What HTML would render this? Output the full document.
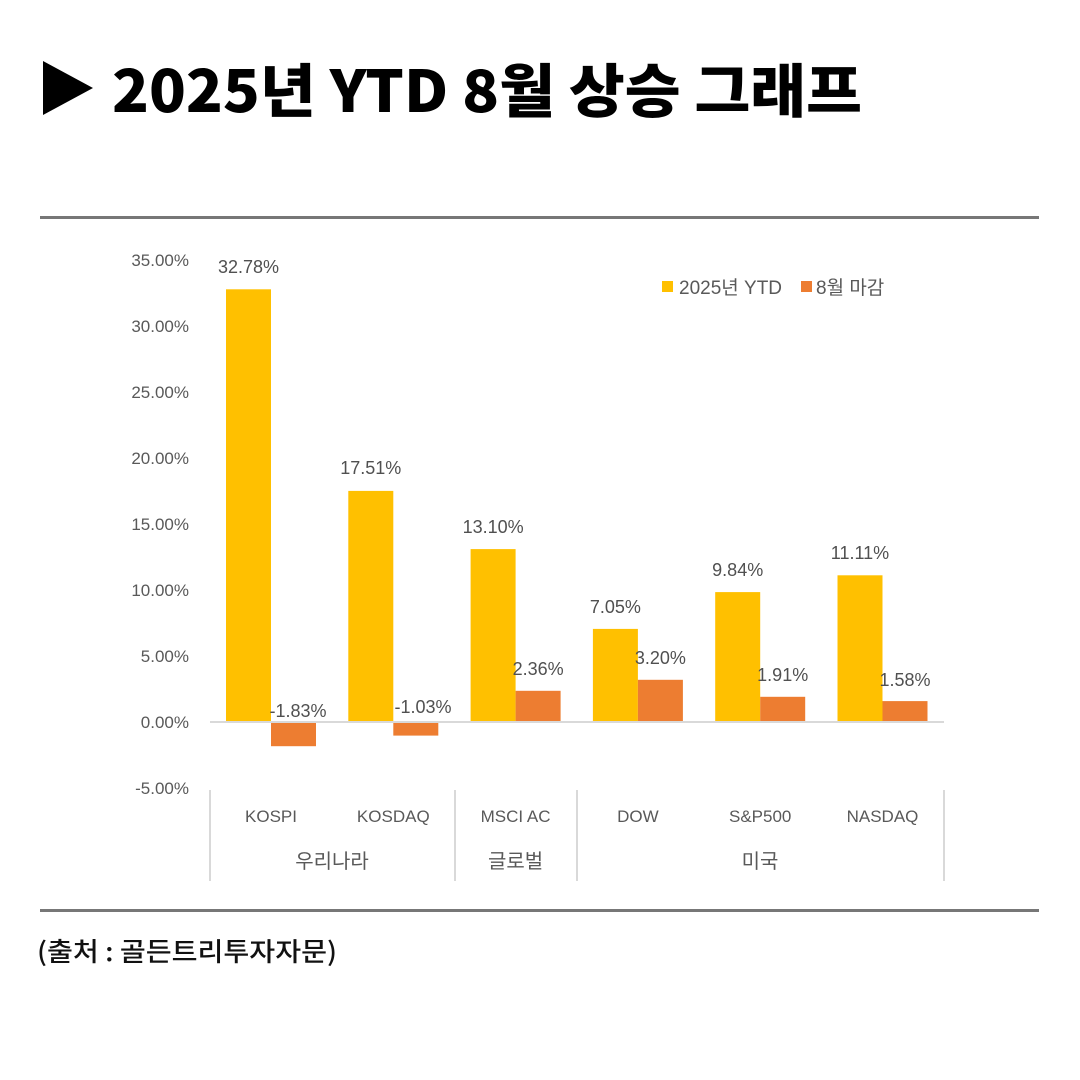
<!DOCTYPE html>
<html><head><meta charset="utf-8"><style>
html,body{margin:0;padding:0;background:#fff;width:1080px;height:1080px;overflow:hidden}
svg{display:block}
text{font-family:"Liberation Sans","Noto Sans CJK KR",sans-serif}
</style></head><body>
<svg width="1080" height="1080" viewBox="0 0 1080 1080" xmlns="http://www.w3.org/2000/svg">
<polygon points="43,61 93,88 43,115" fill="#000"/>
<text x="112" y="112" font-size="58" font-weight="900" fill="#000" style="font-family:'Noto Sans CJK KR',sans-serif" textLength="750" lengthAdjust="spacingAndGlyphs">2025년 YTD 8월 상승 그래프</text>
<rect x="40" y="216" width="999" height="3" fill="#777"/>
<rect x="40" y="909" width="999" height="3" fill="#777"/>
<text x="37" y="961" font-size="26" font-weight="500" fill="#111" style="font-family:'Noto Sans CJK KR',sans-serif" textLength="300" lengthAdjust="spacingAndGlyphs">(출처 : 골든트리투자자문)</text>
<g font-size="17" fill="#595959" text-anchor="end">
<text x="189" y="266">35.00%</text><text x="189" y="332">30.00%</text><text x="189" y="398">25.00%</text><text x="189" y="464">20.00%</text><text x="189" y="530">15.00%</text><text x="189" y="596">10.00%</text><text x="189" y="662">5.00%</text><text x="189" y="728">0.00%</text><text x="189" y="794">-5.00%</text>
</g>
<g fill="#FFC000">
<rect x="226" y="289.3" width="45" height="432.7"/>
<rect x="348.3" y="490.9" width="45" height="231.1"/>
<rect x="470.6" y="549.1" width="45" height="172.9"/>
<rect x="592.9" y="628.9" width="45" height="93.1"/>
<rect x="715.2" y="592.1" width="45" height="129.9"/>
<rect x="837.5" y="575.3" width="45" height="146.7"/>
</g>
<g fill="#ED7D31">
<rect x="271" y="722" width="45" height="24.2"/>
<rect x="393.3" y="722" width="45" height="13.6"/>
<rect x="515.6" y="690.8" width="45" height="31.2"/>
<rect x="637.9" y="679.8" width="45" height="42.2"/>
<rect x="760.2" y="696.8" width="45" height="25.2"/>
<rect x="882.5" y="701.1" width="45" height="20.9"/>
</g>
<rect x="210" y="721" width="734" height="2" fill="#d9d9d9"/>
<g font-size="18" fill="#505050" text-anchor="middle">
<text x="248.5" y="273">32.78%</text>
<text x="370.8" y="474">17.51%</text>
<text x="493.1" y="533">13.10%</text>
<text x="615.4" y="613">7.05%</text>
<text x="737.7" y="576">9.84%</text>
<text x="860" y="559">11.11%</text>
<text x="298" y="717">-1.83%</text>
<text x="423" y="713">-1.03%</text>
<text x="538.1" y="675">2.36%</text>
<text x="660.4" y="664">3.20%</text>
<text x="782.7" y="681">1.91%</text>
<text x="905" y="686">1.58%</text>
</g>
<g fill="#d9d9d9">
<rect x="209" y="790" width="2" height="91"/><rect x="454" y="790" width="2" height="91"/><rect x="576" y="790" width="2" height="91"/><rect x="943" y="790" width="2" height="91"/>
</g>
<g font-size="17" fill="#595959" text-anchor="middle">
<text x="271" y="822">KOSPI</text><text x="393.3" y="822">KOSDAQ</text><text x="515.6" y="822">MSCI AC</text><text x="637.9" y="822">DOW</text><text x="760.2" y="822">S&amp;P500</text><text x="882.5" y="822">NASDAQ</text>
</g>
<g font-size="20" fill="#595959" text-anchor="middle">
<text x="332" y="868">우리나라</text><text x="515.6" y="868">글로벌</text><text x="760" y="868">미국</text>
</g>
<rect x="662" y="281" width="11" height="11" fill="#FFC000"/>
<text x="679" y="294" font-size="19" fill="#595959">2025년 YTD</text>
<rect x="801" y="281" width="11" height="11" fill="#ED7D31"/>
<text x="816" y="294" font-size="19" fill="#595959">8월 마감</text>
</svg>
</body></html>
